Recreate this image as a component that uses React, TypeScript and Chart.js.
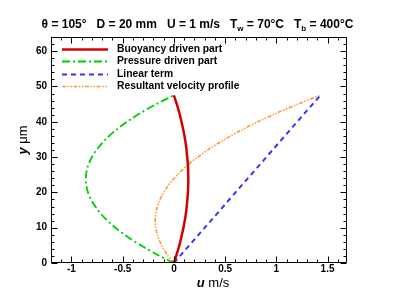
import React, { useEffect, useRef } from "react";
import { Chart, registerables } from "chart.js";
Chart.register(...registerables);

const yPositions = [0, 2.5, 5, 7.5, 10, 12.5, 15, 17.5, 20, 22.5, 25, 27.5, 30, 32.5, 35, 37.5, 40, 42.5, 45, 47.5];
const buoyancyU = [0, 0.028, 0.053, 0.074, 0.093, 0.109, 0.121, 0.13, 0.137, 0.14, 0.14, 0.137, 0.13, 0.121, 0.109, 0.093, 0.074, 0.053, 0.028, 0];
const pressureU = [0, -0.172, -0.324, -0.457, -0.572, -0.667, -0.743, -0.8, -0.839, -0.858, -0.858, -0.839, -0.8, -0.743, -0.667, -0.572, -0.457, -0.324, -0.172, 0];
const linearU = [0, 0.075, 0.151, 0.226, 0.301, 0.376, 0.452, 0.527, 0.602, 0.677, 0.753, 0.828, 0.903, 0.978, 1.054, 1.129, 1.204, 1.279, 1.355, 1.43];
const resultantU = [0, -0.069, -0.12, -0.157, -0.178, -0.182, -0.17, -0.143, -0.1, -0.041, 0.035, 0.126, 0.233, 0.356, 0.496, 0.65, 0.821, 1.008, 1.211, 1.43];

const seriesNames = ["Buoyancy driven part", "Pressure driven part", "Linear term", "Resultant velocity profile"];
const xTickValues = [-1, -0.5, 0, 0.5, 1, 1.5];
const xTickLabels = ["-1", "-0.5", "0", "0.5", "1", "1.5"];
const yTickValues = [0, 10, 20, 30, 40, 50, 60];
const yTickLabels = ["0", "10", "20", "30", "40", "50", "60"];

const FONT = '"Liberation Sans", Arial, sans-serif';

const toPts = (xs: number[]) => xs.map((x, i) => ({ x, y: yPositions[i] }));

const framePlugin = {
  id: "frame",
  afterDatasetsDraw(chart: any) {
    const { ctx, chartArea: a, scales } = chart;
    const xs = scales.x;
    const ys = scales.y;
    const L = Math.round(a.left) + 0.5;
    const R = Math.round(a.right) - 0.5;
    const T = Math.round(a.top) + 0.5;
    const B = Math.round(a.bottom) - 0.5;
    ctx.save();
    ctx.strokeStyle = "#000";
    ctx.lineWidth = 1;
    ctx.beginPath();
    ctx.rect(L, T, R - L, B - T);
    ctx.stroke();
    // x ticks
    ctx.beginPath();
    for (let i = -12; i <= 16; i++) {
      const v = i / 10;
      const px = Math.round(xs.getPixelForValue(v)) + 0.5;
      const len = i % 5 === 0 ? 6 : 3;
      ctx.moveTo(px, B);
      ctx.lineTo(px, B - len);
      ctx.moveTo(px, T);
      ctx.lineTo(px, T + len);
    }
    for (let v = 0; v <= 64; v += 2) {
      const py = Math.round(ys.getPixelForValue(v)) + 0.5;
      const len = v % 10 === 0 ? 6 : 3;
      ctx.moveTo(L, py);
      ctx.lineTo(L + len, py);
      ctx.moveTo(R, py);
      ctx.lineTo(R - len, py);
    }
    ctx.stroke();
    // tick labels
    ctx.fillStyle = "#000";
    ctx.font = `bold 10px ${FONT}`;
    ctx.textAlign = "center";
    ctx.textBaseline = "alphabetic";
    xTickValues.forEach((v, i) => {
      ctx.fillText(xTickLabels[i], xs.getPixelForValue(v), 272);
    });
    ctx.textAlign = "right";
    ctx.textBaseline = "middle";
    yTickValues.forEach((v, i) => {
      ctx.fillText(yTickLabels[i], 47, ys.getPixelForValue(v));
    });
    // axis titles
    ctx.textBaseline = "alphabetic";
    ctx.textAlign = "left";
    const uPart = "u";
    const unitX = " m/s";
    ctx.font = `italic bold 13px ${FONT}`;
    const w1 = ctx.measureText(uPart).width;
    ctx.font = `13px ${FONT}`;
    const w2 = ctx.measureText(unitX).width;
    const cx = 213;
    let sx = cx - (w1 + w2) / 2;
    ctx.font = `italic bold 13px ${FONT}`;
    ctx.fillText(uPart, sx, 287);
    ctx.font = `13px ${FONT}`;
    ctx.fillText(unitX, sx + w1, 287);

    ctx.save();
    ctx.translate(27, 140);
    ctx.rotate(-Math.PI / 2);
    const yPart = "y";
    const unitY = " μm";
    ctx.font = `italic bold 13px ${FONT}`;
    const w3 = ctx.measureText(yPart).width;
    ctx.font = `13px ${FONT}`;
    const w4 = ctx.measureText(unitY).width;
    sx = -(w3 + w4) / 2;
    ctx.font = `italic bold 13px ${FONT}`;
    ctx.fillText(yPart, sx, 0);
    ctx.font = `13px ${FONT}`;
    ctx.fillText(unitY, sx + w3, 0);
    ctx.restore();

    // title with subscripts
    const segs = [
      { t: "θ = 105°   D = 20 mm   U = 1 m/s   T", sub: false },
      { t: "w", sub: true },
      { t: " = 70°C   T", sub: false },
      { t: "b", sub: true },
      { t: " = 400°C", sub: false },
    ];
    const mainF = `bold 12px ${FONT}`;
    const subF = `bold 8px ${FONT}`;
    let total = 0;
    segs.forEach((s) => {
      ctx.font = s.sub ? subF : mainF;
      total += ctx.measureText(s.t).width;
    });
    let tx = 197.5 - total / 2;
    segs.forEach((s) => {
      ctx.font = s.sub ? subF : mainF;
      ctx.fillText(s.t, tx, s.sub ? 31 : 28);
      tx += ctx.measureText(s.t).width;
    });

    // legend
    const rows = [49, 61.3, 73.6, 86];
    chart.data.datasets.forEach((ds: any, i: number) => {
      const y = Math.round(rows[i]) + 0.5;
      ctx.save();
      ctx.strokeStyle = ds.borderColor;
      ctx.lineWidth = ds.borderWidth;
      ctx.setLineDash(ds.borderDash || []);
      ctx.beginPath();
      ctx.moveTo(62, y);
      ctx.lineTo(108, y);
      ctx.stroke();
      ctx.restore();
      ctx.fillStyle = "#000";
      ctx.font = `bold 10.3px ${FONT}`;
      ctx.textAlign = "left";
      ctx.textBaseline = "middle";
      ctx.fillText(seriesNames[i], 117, y);
    });
    ctx.restore();
  },
};

export default function App() {
  const ref = useRef<HTMLCanvasElement | null>(null);
  useEffect(() => {
    if (!ref.current) return;
    const chart = new Chart(ref.current, {
      type: "scatter",
      data: {
        datasets: [
          { label: seriesNames[0], data: toPts(buoyancyU), borderColor: "#d40000", borderWidth: 2.5, borderDash: [], showLine: true, pointRadius: 0, tension: 0.3 },
          { label: seriesNames[1], data: toPts(pressureU), borderColor: "#00cc00", borderWidth: 1.8, borderDash: [8, 3, 2, 3], showLine: true, pointRadius: 0, tension: 0.3 },
          { label: seriesNames[2], data: toPts(linearU), borderColor: "#3333ff", borderWidth: 2, borderDash: [5, 4], showLine: true, pointRadius: 0, tension: 0 },
          { label: seriesNames[3], data: toPts(resultantU), borderColor: "#ff9933", borderWidth: 1.6, borderDash: [4, 1.5, 1.5, 1.5, 1.5, 1.5], showLine: true, pointRadius: 0, tension: 0.3 },
        ] as any,
      },
      options: {
        animation: false,
        responsive: false,
        layout: { padding: { left: 51, top: 37, right: 48, bottom: 33 } },
        scales: {
          x: { type: "linear", min: -1.2, max: 1.69, display: false },
          y: { type: "linear", min: 0, max: 64, display: false },
        },
        plugins: { legend: { display: false }, tooltip: { enabled: false } },
      },
      plugins: [framePlugin],
    });
    return () => chart.destroy();
  }, []);
  return (
    <div style={{ position: "absolute", left: 0, top: 0, width: 395, height: 296, background: "#fff" }}>
      <canvas ref={ref} width={395} height={296} />
    </div>
  );
}
